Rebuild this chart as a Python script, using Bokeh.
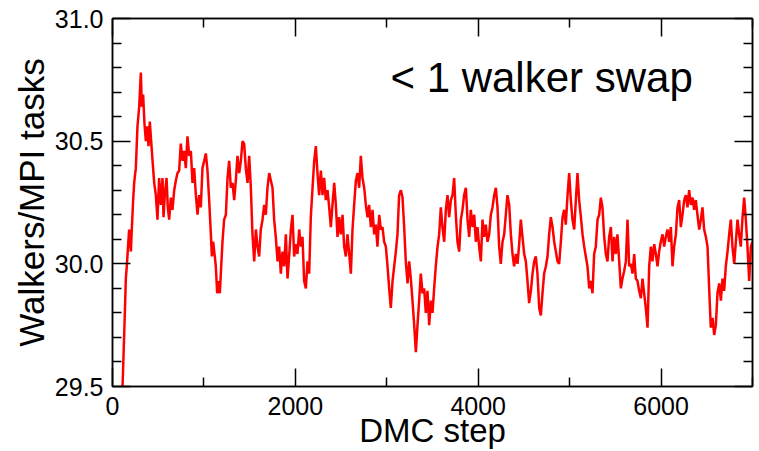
from bokeh.plotting import figure
from bokeh.models import Range1d, FixedTicker, PrintfTickFormatter, LinearAxis, Label
from bokeh.embed import file_html
from bokeh.resources import INLINE

# ---- data ----
steps = [
    109, 131, 146, 160, 168, 182, 201, 211, 226, 237, 255, 273, 292, 310, 321, 335, 350, 365, 379, 394,
    408, 423, 438, 456, 474, 492, 510, 529, 547, 558, 572, 591, 605, 620, 638, 656, 675, 693, 711, 729,
    747, 766, 784, 802, 820, 839, 857, 875, 893, 912, 930, 948, 966, 984, 1003, 1021, 1039, 1057, 1076, 1087,
    1101, 1116, 1130, 1145, 1159, 1174, 1189, 1203, 1221, 1240, 1258, 1276, 1294, 1313, 1331, 1349, 1367, 1386, 1404, 1422,
    1440, 1458, 1477, 1495, 1513, 1531, 1550, 1568, 1586, 1604, 1622, 1641, 1659, 1677, 1695, 1714, 1732, 1750,
    1768, 1786, 1805, 1823, 1841, 1859, 1878, 1896, 1914, 1932, 1951, 1969, 1987, 2005, 2023, 2042, 2060, 2078, 2096, 2115,
    2133, 2151, 2169, 2188, 2206, 2224, 2242, 2260, 2279, 2297, 2315, 2333, 2352, 2370, 2388, 2406, 2425, 2443, 2461, 2479,
    2497, 2516, 2534, 2552, 2570, 2589, 2607, 2625, 2643, 2662, 2680, 2698, 2716, 2734, 2753, 2771, 2789, 2807, 2826, 2844,
    2862, 2880, 2898, 2917, 2935, 2953, 2971, 2990, 3008, 3026, 3044, 3063, 3081, 3099, 3117, 3135, 3154, 3172, 3190, 3208,
    3227, 3245, 3263, 3281, 3300, 3318, 3336, 3354, 3372, 3391, 3409, 3427, 3445, 3464, 3482, 3500,
    3518, 3536, 3555, 3573, 3591, 3609, 3628, 3646, 3664, 3682, 3701, 3719, 3737, 3755, 3773, 3792, 3810, 3828, 3846, 3865,
    3883, 3901, 3919, 3938, 3956, 3974, 3992, 4010, 4029, 4047, 4065, 4083, 4102, 4120, 4138, 4156, 4175, 4193, 4211, 4229,
    4247, 4266, 4284, 4302, 4320, 4339, 4357, 4375, 4393, 4412, 4430, 4448, 4466, 4484, 4503, 4521, 4539, 4557, 4576, 4594,
    4612, 4630, 4648, 4667, 4685, 4703, 4721, 4740, 4758, 4776, 4794, 4813, 4831, 4849, 4867, 4885, 4904, 4922, 4940, 4958,
    4977, 4995, 5013, 5031, 5050, 5068, 5086, 5104, 5123, 5141, 5159, 5177, 5195, 5214, 5232, 5250,
    5268, 5286, 5305, 5323, 5341, 5359, 5378, 5396, 5414, 5432, 5451, 5469, 5487, 5505, 5523, 5542, 5560, 5578, 5596, 5615,
    5633, 5651, 5669, 5688, 5706, 5724, 5742, 5760, 5779, 5797, 5815, 5833, 5852, 5870, 5888, 5906, 5925, 5943, 5961, 5979,
    5997, 6016, 6034, 6052, 6070, 6089, 6107, 6125, 6143, 6162, 6180, 6198, 6216, 6234, 6253, 6271, 6289, 6307, 6326, 6344,
    6362, 6380, 6398, 6417, 6435, 6453, 6471, 6490, 6508, 6526, 6544, 6563, 6581, 6599, 6617, 6636, 6654, 6672, 6690, 6708,
    6727, 6745, 6763, 6781, 6800, 6818, 6836, 6854, 6872, 6891, 6909, 6927, 6945, 6964, 6982, 7000,
]
walkers = [
    29.49, 29.75, 29.94, 30.01, 30.06, 30.14, 30.05, 30.14, 30.26, 30.33, 30.39, 30.56, 30.64, 30.78, 30.64, 30.69, 30.57, 30.50, 30.56, 30.48,
    30.58, 30.50, 30.42, 30.33, 30.28, 30.18, 30.35, 30.24, 30.35, 30.19, 30.28, 30.35, 30.23, 30.18, 30.27, 30.22, 30.30, 30.34, 30.37, 30.38,
    30.49, 30.42, 30.46, 30.39, 30.52, 30.44, 30.46, 30.33, 30.39, 30.28, 30.20, 30.28, 30.23, 30.39, 30.42, 30.45, 30.38, 30.26, 30.12, 30.03,
    30.09, 30.04, 29.99, 29.88, 29.93, 29.88, 29.99, 30.09, 30.18, 30.20, 30.35, 30.42, 30.31, 30.33, 30.26, 30.34, 30.44, 30.37, 30.42, 30.50,
    30.49, 30.39, 30.33, 30.44, 30.31, 30.12, 30.01, 30.14, 30.07, 30.03, 30.14, 30.18, 30.24, 30.20, 30.31, 30.37, 30.34, 30.31,
    30.18, 30.11, 30.01, 30.07, 29.96, 30.05, 29.99, 30.12, 29.94, 30.03, 30.14, 30.20, 30.03, 30.08, 30.04, 30.14, 30.07, 30.11, 29.93, 29.90,
    30.01, 29.96, 30.19, 30.31, 30.42, 30.48, 30.37, 30.28, 30.38, 30.28, 30.35, 30.26, 30.30, 30.23, 30.15, 30.24, 30.33, 30.24, 30.11, 30.19,
    30.12, 30.20, 30.07, 30.03, 30.12, 30.04, 29.96, 30.14, 30.24, 30.34, 30.37, 30.31, 30.44, 30.35, 30.31, 30.24, 30.19, 30.24, 30.15, 30.22,
    30.12, 30.16, 30.07, 30.20, 30.14, 30.15, 30.09, 30.07, 29.99, 29.90, 29.82, 29.93, 29.99, 30.05, 30.12, 30.28, 30.30, 30.27, 30.15, 30.01,
    29.92, 30.01, 29.94, 29.85, 29.75, 29.64, 29.75, 29.85, 29.96, 29.88, 29.90, 29.80, 29.89, 29.75, 29.85, 29.80,
    29.90, 29.99, 30.07, 30.12, 30.23, 30.15, 30.09, 30.22, 30.28, 30.19, 30.26, 30.28, 30.35, 30.20, 30.09, 30.05, 30.18, 30.22, 30.28, 30.31,
    30.18, 30.11, 30.22, 30.15, 30.20, 30.09, 30.15, 30.07, 30.01, 30.18, 30.11, 30.16, 30.09, 30.12, 30.20, 30.23, 30.28, 30.31, 30.23, 30.07,
    30.00, 30.09, 30.12, 30.20, 30.28, 30.24, 30.12, 30.04, 29.99, 30.04, 30.00, 30.08, 30.18, 30.11, 30.04, 30.01, 29.93, 29.84, 29.89, 29.96,
    30.01, 30.03, 29.96, 29.82, 29.79, 29.88, 29.96, 29.99, 30.03, 30.12, 30.19, 30.15, 30.09, 30.05, 30.01, 30.00, 30.09, 30.19, 30.22, 30.16,
    30.28, 30.37, 30.26, 30.18, 30.14, 30.26, 30.37, 30.26, 30.19, 30.12, 30.07, 30.03, 29.99, 29.90, 29.93, 29.88,
    30.04, 30.07, 30.18, 30.20, 30.27, 30.23, 30.11, 30.04, 30.01, 30.11, 30.15, 30.01, 30.11, 30.04, 30.12, 30.01, 29.90, 29.94, 29.97, 30.01,
    30.18, 29.99, 30.00, 29.96, 30.04, 29.94, 29.93, 29.89, 29.86, 29.94, 29.88, 29.82, 29.74, 29.99, 30.07, 30.01, 30.08, 30.04, 29.99, 30.05,
    30.09, 30.12, 30.07, 30.11, 30.14, 30.09, 30.15, 29.99, 30.07, 30.12, 30.23, 30.26, 30.15, 30.20, 30.26, 30.28, 30.23, 30.30, 30.24, 30.27,
    30.22, 30.26, 30.20, 30.14, 30.18, 30.23, 30.14, 30.11, 30.07, 29.90, 29.74, 29.78, 29.71, 29.75, 29.88, 29.92, 29.85, 29.94, 29.89, 29.99,
    30.05, 30.12, 30.18, 30.07, 30.00, 30.09, 30.18, 30.12, 30.07, 30.19, 30.27, 30.18, 30.07, 29.93, 30.07, 30.09,
]

x_major = [0, 2000, 4000, 6000]
x_minor = [1000, 3000, 5000, 7000]
y_major = [29.5, 30.0, 30.5, 31.0]
y_minor = [29.6, 29.7, 29.8, 29.9, 30.1, 30.2, 30.3, 30.4, 30.6, 30.7, 30.8, 30.9]

FONT = "Liberation Sans"

p = figure(width=759, height=451, output_backend="svg", toolbar_location=None,
           x_range=Range1d(0, 7000), y_range=Range1d(29.5, 31.0),
           min_border_left=112, min_border_right=7, min_border_top=18, min_border_bottom=65)
p.grid.visible = False
p.background_fill_color = "white"
p.border_fill_color = "white"
p.outline_line_color = "black"
p.outline_line_width = 1.5

p.line(steps, walkers, line_color="#ff0000", line_width=2.5)

def style(ax, ticks, minors, labels=True):
    ax.ticker = FixedTicker(ticks=ticks, minor_ticks=minors)
    ax.major_tick_in = 18
    ax.major_tick_out = 0
    ax.minor_tick_in = 9
    ax.minor_tick_out = 0
    ax.major_tick_line_color = "black"
    ax.minor_tick_line_color = "black"
    ax.major_tick_line_width = 1.5
    ax.minor_tick_line_width = 1.5
    ax.axis_line_color = "black"
    ax.axis_line_width = 1.5
    ax.major_label_text_font = FONT
    ax.axis_label_text_font = FONT
    ax.axis_label_text_font_style = "normal"
    ax.major_label_text_color = "black"
    ax.axis_label_text_color = "black"
    if not labels:
        ax.major_label_overrides = {t: "" for t in ticks}
        ax.major_label_text_font_size = "1px"
        ax.major_label_standoff = 0

xa = p.xaxis[0]
style(xa, x_major, x_minor)
xa.major_label_text_font_size = "25px"
xa.major_label_standoff = 10
xa.axis_label = "DMC step"
xa.axis_label_text_font_size = "33px"
xa.axis_label_standoff = -6

ya = p.yaxis[0]
style(ya, y_major, y_minor)
ya.formatter = PrintfTickFormatter(format="%.1f")
ya.major_label_text_font_size = "25px"
ya.major_label_standoff = 9
ya.axis_label = "Walkers/MPI tasks"
ya.axis_label_text_font_size = "35px"
ya.axis_label_standoff = 1

top = LinearAxis()
style(top, x_major, x_minor, labels=False)
p.add_layout(top, "above")
right = LinearAxis()
style(right, y_major, y_minor, labels=False)
p.add_layout(right, "right")

p.add_layout(Label(x=3040, y=30.76, text="< 1 walker swap", text_font=FONT,
                   text_font_size="42px", text_color="black", text_baseline="alphabetic"))

open("out.html", "w").write(file_html(p, INLINE))
